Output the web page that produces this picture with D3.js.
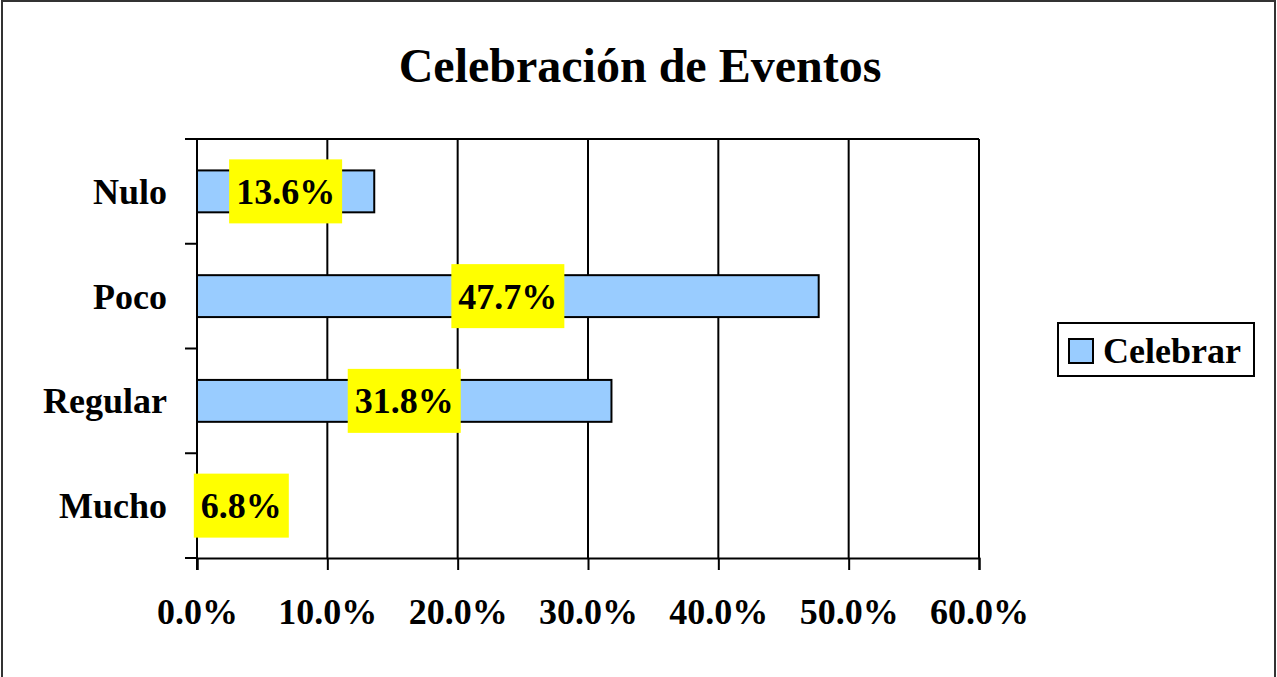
<!DOCTYPE html>
<html>
<head>
<meta charset="utf-8">
<script src="https://cdn.jsdelivr.net/npm/d3@7"></script>
<style>
  body { margin: 0; background: #fff; }
  text { font-family: "Liberation Serif", "Times New Roman", serif; font-weight: bold; fill: #000; }
</style>
</head>
<body>
<div id="chart"></div>
<script>
// data
const categories = ['Nulo', 'Poco', 'Regular', 'Mucho']
const values = [13.6, 47.7, 31.8, 6.8]
const xTicks = [0, 10, 20, 30, 40, 50, 60]
const seriesName = 'Celebrar'
const title = 'Celebración de Eventos'

const width = 1277, height = 677
const margin = { top: 139, right: 298, bottom: 119, left: 197 }

const svg = d3.select('#chart').append('svg')
	.attr('width', width)
	.attr('height', height)

// outer frame (bottom edge falls outside the picture)
svg.append('rect')
	.attr('x', 2).attr('y', 1)
	.attr('width', width - 4).attr('height', height + 10)
	.attr('fill', '#fff')
	.attr('stroke', '#333')
	.attr('stroke-width', 2)

svg.append('text')
	.attr('x', 640).attr('y', 82)
	.attr('text-anchor', 'middle')
	.attr('font-size', 48)
	.text(title)

const innerW = width - margin.left - margin.right
const innerH = height - margin.top - margin.bottom

const x = d3.scaleLinear().domain([0, 60]).range([0, innerW])
const y = d3.scaleBand().domain(categories).range([0, innerH]).paddingInner(0.6).paddingOuter(0.3)

const g = svg.append('g')
	.attr('transform', 'translate(' + margin.left + ',' + margin.top + ')')

// gridlines
g.selectAll('.grid')
	.data(xTicks.slice(1))
	.enter().append('line')
	.attr('x1', d => x(d)).attr('x2', d => x(d))
	.attr('y1', 0).attr('y2', innerH)
	.attr('stroke', '#000')
	.attr('stroke-width', 2)

// top border
g.append('line')
	.attr('x1', 0).attr('x2', innerW)
	.attr('y1', 0).attr('y2', 0)
	.attr('stroke', '#000').attr('stroke-width', 2)

// bars
g.selectAll('.bar')
	.data(values)
	.enter().append('rect')
	.attr('class', 'bar')
	.attr('x', 0)
	.attr('y', (d, i) => y(categories[i]))
	.attr('width', d => x(d))
	.attr('height', y.bandwidth())
	.attr('fill', '#99ccff')
	.attr('stroke', '#000')
	.attr('stroke-width', 2)

// x axis
const xAxis = g.append('g')
	.attr('transform', 'translate(0,' + innerH + ')')
	.call(d3.axisBottom(x).tickValues(xTicks).tickSize(12).tickPadding(28).tickFormat(d => d.toFixed(1) + '%'))
xAxis.selectAll('text')
	.attr('font-size', 36)
	.attr('font-family', '"Liberation Serif", serif')
	.attr('font-weight', 'bold')
	.attr('fill', '#000')
xAxis.selectAll('line, path').attr('stroke', '#000').attr('stroke-width', 2)

// y axis with ticks at category boundaries
const yAxis = g.append('g')
yAxis.append('line')
	.attr('x1', 0).attr('x2', 0).attr('y1', 0).attr('y2', innerH + 12)
	.attr('stroke', '#000').attr('stroke-width', 2)
const step = y.step()
yAxis.selectAll('.ytick')
	.data(d3.range(categories.length + 1))
	.enter().append('line')
	.attr('x1', -12).attr('x2', 0)
	.attr('y1', d => d * step).attr('y2', d => d * step)
	.attr('stroke', '#000').attr('stroke-width', 2)
yAxis.selectAll('.ylabel')
	.data(categories)
	.enter().append('text')
	.attr('x', -30)
	.attr('y', d => y(d) + y.bandwidth() / 2)
	.attr('dy', '0.35em')
	.attr('text-anchor', 'end')
	.attr('font-size', 36)
	.text(d => d)

// value labels
const labels = g.selectAll('.lbl')
	.data(values)
	.enter().append('g')
	.attr('transform', (d, i) => 'translate(' + x(d) / 2 + ',' + (y(categories[i]) + y.bandwidth() / 2) + ')')
labels.append('text')
	.attr('text-anchor', 'middle')
	.attr('dy', '0.35em')
	.attr('font-size', 36)
	.text(d => d.toFixed(1) + '%')
labels.each(function () {
	const t = d3.select(this).select('text')
	const b = t.node().getBBox()
	d3.select(this).insert('rect', 'text')
		.attr('x', b.x - 7).attr('y', -32)
		.attr('width', b.width + 14).attr('height', 64)
		.attr('fill', '#ffff00')
})

// legend
const lg = svg.append('g').attr('transform', 'translate(1058,323)')
lg.append('rect')
	.attr('width', 196).attr('height', 53)
	.attr('fill', '#fff').attr('stroke', '#000').attr('stroke-width', 2)
lg.append('rect')
	.attr('x', 11).attr('y', 16).attr('width', 24).attr('height', 24)
	.attr('fill', '#99ccff').attr('stroke', '#000').attr('stroke-width', 2)
lg.append('text')
	.attr('x', 45).attr('y', 40)
	.attr('font-size', 36)
	.text(seriesName)
</script>
</body>
</html>
